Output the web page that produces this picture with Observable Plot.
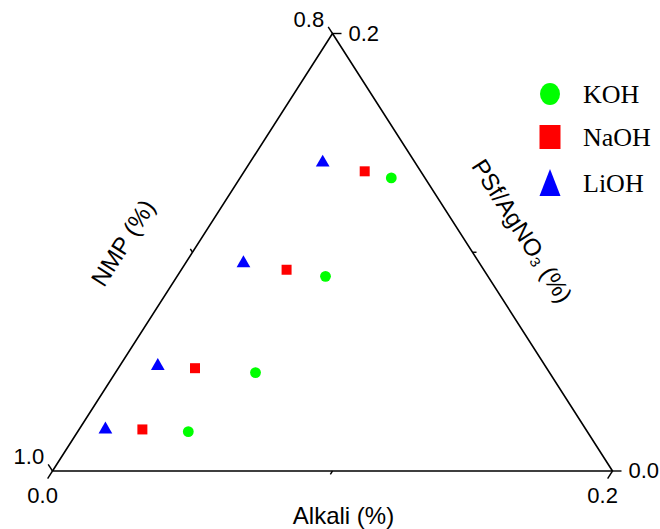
<!DOCTYPE html>
<html>
<head>
<meta charset="utf-8">
<script src="https://cdn.jsdelivr.net/npm/d3@7"></script>
<script src="https://cdn.jsdelivr.net/npm/@observablehq/plot@0.6"></script>
<style>
  body { margin: 0; background: #fff; }
  #chart { position: relative; width: 660px; height: 529px; }
</style>
</head>
<body>
<div id="chart"></div>
<script>
// ---- data (ternary fractions) ----
const seriesNames = ["KOH", "NaOH", "LiOH"];
const seriesColors = ["#00ff00", "#ff0000", "#0000ff"];
const seriesSymbols = ["circle", "square", "triangle"];

const kohAlkali  = [0.054, 0.053, 0.050, 0.0395];
const kohPsf     = [0.134, 0.089, 0.045, 0.018];
const naohAlkali = [0.043, 0.0376, 0.0274, 0.0226];
const naohPsf    = [0.137, 0.092, 0.047, 0.019];
const liohAlkali = [0.026, 0.0207, 0.0136, 0.0094];
const liohPsf    = [0.141, 0.095, 0.048, 0.019];

// axis ranges
const alkaliRange = [0.0, 0.2];
const nmpRange = [0.8, 1.0];
const psfRange = [0.0, 0.2];

// ticks
const alkaliMajor = [0.0, 0.2], alkaliMinor = [0.1];
const nmpMajor = [1.0, 0.8], nmpMinor = [0.9];
const psfMajor = [0.0, 0.2], psfMinor = [0.1];
const alkaliLabels = ["0.0", "0.2"];
const nmpLabels = ["1.0", "0.8"];
const psfLabels = ["0.0", "0.2"];

// titles
const alkaliTitle = "Alkali (%)";
const nmpTitle = "NMP (%)";
const psfTitle = "PSf/AgNO\u2083 (%)";

// ---- ternary -> cartesian (unit coords) ----
const span = alkaliRange[1] - alkaliRange[0];
function toXY(a, p) {
  const u = (a - alkaliRange[0]) / span;
  const v = (p - psfRange[0]) / span;
  return {x: u + v / 2, y: v};
}

const outline = [
  toXY(0, 0), toXY(0.2, 0), toXY(0, 0.2), toXY(0, 0)
];

function pts(al, ps, name) {
  return al.map((a, i) => ({...toXY(a, ps[i]), name}));
}
const dataSets = [pts(kohAlkali, kohPsf, "KOH"), pts(naohAlkali, naohPsf, "NaOH"), pts(liohAlkali, liohPsf, "LiOH")];

// tick geometry (directions in unit coords, lengths as fractions of side)
const dirA = [-0.5, -1], dirN = [-0.5, 1], dirP = [1, 0];
function tickSeg(pt, dir, k) { return {x1: pt.x, y1: pt.y, x2: pt.x + dir[0]*k, y2: pt.y + dir[1]*k}; }
const kMajA = 9/519.5, kMinA = 4/519.5, kMajN = 8/519.5, kMinN = 4/519.5, kMajP = 9/560, kMinP = 4/560;

const alkPt = t => toXY(t, 0);
const nmpPt = t => toXY(0, 1 - t - 0);           // alkali = 0, psf = 1 - nmp
const psfPt = t => toXY(0.2 - t, t);             // nmp = 0.8

const ticks = [
  ...alkaliMajor.map(t => tickSeg(alkPt(t), dirA, kMajA)),
  ...alkaliMinor.map(t => tickSeg(alkPt(t), dirA, kMinA)),
  ...nmpMajor.map(t => tickSeg(nmpPt(t), dirN, kMajN)),
  ...nmpMinor.map(t => tickSeg(nmpPt(t), dirN, kMinN)),
  ...psfMajor.map(t => tickSeg(psfPt(t), dirP, kMajP)),
  ...psfMinor.map(t => tickSeg(psfPt(t), dirP, kMinP)),
];

const alkLab = alkaliMajor.map((t, i) => ({...tickSeg(alkPt(t), dirA, kMajA), text: alkaliLabels[i]}));
const nmpLab = nmpMajor.map((t, i) => ({...tickSeg(nmpPt(t), dirN, kMajN), text: nmpLabels[i]}));
const psfLab = psfMajor.map((t, i) => ({...tickSeg(psfPt(t), dirP, kMajP), text: psfLabels[i]}));

const angle = Math.atan2(437.5, 279.5) * 180 / Math.PI;
const midBottom = [{...toXY(0.1, 0), text: alkaliTitle}];
const midLeft = [{...toXY(0, 0.1), text: nmpTitle}];
const midRight = [{...toXY(0.1, 0.1), text: psfTitle}];

const font = "'Liberation Sans', Arial, Helvetica, sans-serif";

const chart = Plot.plot({
  width: 660, height: 529,
  marginLeft: 52, marginRight: 48, marginTop: 33, marginBottom: 58.5,
  x: {domain: [0, 1], axis: null},
  y: {domain: [0, 1], axis: null},
  style: {fontFamily: font, fontSize: "22px", background: "white", overflow: "visible", color: "black"},
  marks: [
    Plot.line(outline, {x: "x", y: "y", stroke: "black", strokeWidth: 1.6}),
    Plot.link(ticks, {x1: "x1", y1: "y1", x2: "x2", y2: "y2", stroke: "black", strokeWidth: 1.4}),
    Plot.text(alkLab, {x: "x2", y: "y2", text: "text", fontSize: 22, textAnchor: "middle", lineAnchor: "middle", dx: -5, dy: 17}),
    Plot.text(nmpLab, {x: "x2", y: "y2", text: "text", fontSize: 22, textAnchor: "end", lineAnchor: "middle", dx: -4, dy: -7}),
    Plot.text(psfLab, {x: "x2", y: "y2", text: "text", fontSize: 22, textAnchor: "start", lineAnchor: "middle", dx: 7, dy: 0}),
    Plot.text(midBottom, {x: "x", y: "y", text: "text", fontSize: 24, textAnchor: "middle", lineAnchor: "middle", dx: 11, dy: 45}),
    Plot.text(midLeft, {x: "x", y: "y", text: "text", fontSize: 24, textAnchor: "middle", lineAnchor: "middle", rotate: -angle, dx: -69, dy: -9}),
    Plot.text(midRight, {x: "x", y: "y", text: "text", fontSize: 24, textAnchor: "middle", lineAnchor: "middle", rotate: angle, dx: 49, dy: -21}),
    Plot.dot(dataSets[0], {x: "x", y: "y", symbol: "circle", r: 5.4, fill: seriesColors[0], stroke: "none"}),
    Plot.dot(dataSets[1], {x: "x", y: "y", symbol: "square", r: 5.64, fill: seriesColors[1], stroke: "none"}),
    Plot.dot(dataSets[2], {x: "x", y: "y", symbol: "triangle", r: 5.1, fill: seriesColors[2], stroke: "none"}),
  ]
});

document.getElementById("chart").appendChild(chart);

// ---- legend (added on top of the SVG) ----
const svg = d3.select(chart);
const leg = svg.append("g")
  .attr("font-family", "'Liberation Serif', 'Times New Roman', serif")
  .attr("font-size", 26)
  .attr("text-anchor", "start");
const legRows = [94, 137, 183];
const legSym = [
  g => g.append("ellipse").attr("rx", 10).attr("ry", 11),
  g => g.append("rect").attr("x", -10.5).attr("y", -12).attr("width", 21).attr("height", 24),
  g => g.append("path").attr("d", "M0,-14L10.5,13L-10.5,13Z"),
];
seriesNames.forEach((name, i) => {
  const row = leg.append("g").attr("transform", `translate(550,${legRows[i]})`);
  legSym[i](row).attr("fill", seriesColors[i]);
  row.append("text").attr("x", 33).attr("y", 0).attr("dy", "0.33em")
    .attr("text-anchor", "start").attr("fill", "black").text(name);
});
</script>
</body>
</html>
